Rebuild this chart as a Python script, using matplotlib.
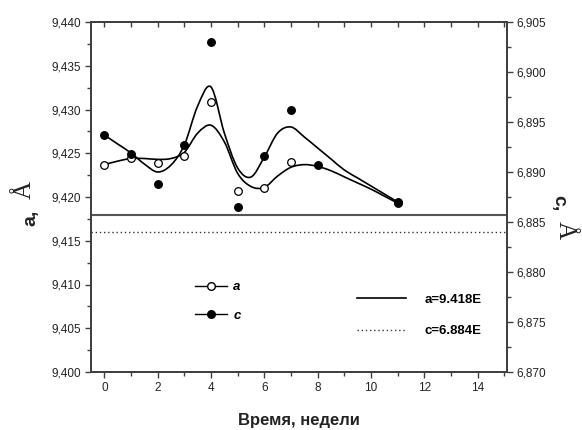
import numpy as np
import matplotlib
matplotlib.use("Agg")
import matplotlib.pyplot as plt
from matplotlib.path import Path
from matplotlib.patches import PathPatch
from matplotlib.lines import Line2D
from matplotlib.ticker import MultipleLocator, FuncFormatter

plt.rcParams['font.family'] = ['Liberation Sans', 'DejaVu Sans']

# lattice parameter a (left axis), weeks
a_weeks = [0, 1, 2, 3, 4, 5, 6, 7, 11]
a_vals = [9.4237, 9.4244, 9.4239, 9.4247, 9.4309, 9.4207, 9.4210, 9.4240, 9.4193]

# lattice parameter c (right axis), weeks
c_weeks = [0, 1, 2, 3, 4, 5, 6, 7, 8, 11]
c_vals = [6.8937, 6.8918, 6.8888, 6.8927, 6.9030, 6.8865, 6.8916, 6.8962, 6.8907, 6.8870]

# smoothed trend curves
a_fit_weeks = [0, 0.5, 1, 1.5, 2, 2.5, 3, 3.5, 4, 4.5, 5, 5.5, 6, 6.5, 7, 7.5, 8,
               8.5, 9, 9.5, 10, 10.5, 11]
a_fit_vals = [9.4237, 9.4241, 9.4244, 9.4244, 9.4243, 9.4244, 9.4251, 9.4273, 9.4282, 9.4263,
              9.4227, 9.4212, 9.4211, 9.4224, 9.4234, 9.4237, 9.4235,
              9.4230, 9.4223, 9.4216, 9.4209, 9.4201, 9.4193]
c_fit_weeks = [0, 0.5, 1, 1.5, 2, 2.5, 3, 3.5, 4, 4.5, 5, 5.5, 6, 6.5, 7, 7.5, 8,
               8.5, 9, 9.5, 10, 10.5, 11]
c_fit_vals = [6.8937, 6.8928, 6.8919, 6.8908, 6.8900, 6.8907, 6.8927, 6.8966, 6.8985, 6.8939,
              6.8904, 6.8895, 6.8915, 6.8939, 6.8945, 6.8935, 6.8924,
              6.8913, 6.8902, 6.8894, 6.8886, 6.8878, 6.8870]

# reference (initial) values
a_ref = 9.418
c_ref = 6.884

INK = '#222222'
AXC = '#404040'


def spline_path(xs, ys):
    # Catmull-Rom through the knots, written as cubic Bezier segments
    pts = np.column_stack([xs, ys]).astype(float)
    n = len(pts)
    verts = [pts[0]]
    codes = [Path.MOVETO]
    for i in range(n - 1):
        p0 = pts[i - 1] if i > 0 else pts[i]
        p1 = pts[i]
        p2 = pts[i + 1]
        p3 = pts[i + 2] if i + 2 < n else pts[i + 1]
        verts += [p1 + (p2 - p0) / 6.0, p2 - (p3 - p1) / 6.0, p2]
        codes += [Path.CURVE4] * 3
    return Path(verts, codes)


def comma(v, pos):
    return f"{v:.3f}".replace('.', ',')


fig = plt.figure(figsize=(5.82, 4.30), dpi=100, facecolor='white')
ax = fig.add_axes([91 / 582, 1 - 372 / 430, 416 / 582, 350 / 430])
ax2 = ax.twinx()

# curves
ax.add_patch(PathPatch(spline_path(a_fit_weeks, a_fit_vals), fc='none', ec='black', lw=1.2, zorder=3))
ax2.add_patch(PathPatch(spline_path(c_fit_weeks, c_fit_vals), fc='none', ec='black', lw=1.2, zorder=3))

# reference levels
ax.axhline(a_ref, color='#555555', lw=1.5, zorder=2)
ax2.axhline(c_ref, color='#333333', lw=1.0, ls=(0, (1, 2)), zorder=2)

# measured points
ax.plot(a_weeks, a_vals, ls='none', marker='o', ms=5.5, mfc='white', mec='black', mew=0.9, zorder=4)
ax2.plot(c_weeks, c_vals, ls='none', marker='o', ms=5.5, mfc='black', mec='black', mew=0.9, zorder=5)

ax.set_xlim(-0.5, 15.1)
ax.set_ylim(9.400, 9.440)
ax2.set_ylim(6.870, 6.905)

ax.xaxis.set_major_locator(MultipleLocator(2))
ax.xaxis.set_minor_locator(MultipleLocator(1))
ax.yaxis.set_major_locator(MultipleLocator(0.005))
ax.yaxis.set_minor_locator(MultipleLocator(0.0025))
ax2.yaxis.set_major_locator(MultipleLocator(0.005))
ax2.yaxis.set_minor_locator(MultipleLocator(0.0025))
ax.yaxis.set_major_formatter(FuncFormatter(comma))
ax2.yaxis.set_major_formatter(FuncFormatter(comma))

for a_ in (ax, ax2):
    for s in a_.spines.values():
        s.set_linewidth(1.3)
        s.set_color(AXC)
    a_.tick_params(which='major', length=4.5, width=1.0, color=AXC, labelsize=8.5,
                   labelcolor=INK, direction='out', pad=2.5)
    a_.tick_params(which='minor', length=3, width=1.0, color=AXC, direction='out')

top = ax.secondary_xaxis('top')
top.xaxis.set_major_locator(MultipleLocator(2))
top.xaxis.set_minor_locator(MultipleLocator(1))
top.tick_params(which='both', direction='in', length=3.5, width=1.0, color=AXC,
                labeltop=False)
top.spines['top'].set_linewidth(1.3)
top.spines['top'].set_color(AXC)

ax.set_xlabel('Время, недели', fontsize=12, fontweight='bold', color=INK, labelpad=14)

# axis titles: letter in sans, angstrom sign in serif
fig.text(31 / 582, 1 - 218 / 430, 'a,', rotation=90, ha='center', va='center',
         fontsize=14, fontweight='bold', color=INK)
fig.text(25 / 582, 1 - 190 / 430, 'Å', rotation=90, ha='center', va='center',
         fontsize=18, family='Liberation Serif', color=INK)
fig.text(559 / 582, 1 - 203 / 430, 'c,', rotation=270, ha='center', va='center',
         fontsize=14, fontweight='bold', color=INK)
fig.text(565 / 582, 1 - 230 / 430, 'Å', rotation=270, ha='center', va='center',
         fontsize=18, family='Liberation Serif', color=INK)

# legends
h_a = Line2D([], [], color='black', lw=1.0, marker='o', ms=5.5, mfc='white', mec='black')
h_c = Line2D([], [], color='black', lw=1.0, marker='o', ms=5.5, mfc='black', mec='black')
leg1 = ax.legend([h_a, h_c], ['a', 'c'], loc='center left', frameon=False,
                 bbox_to_anchor=(195 / 582, 1 - 301.5 / 430), bbox_transform=fig.transFigure,
                 borderpad=0, borderaxespad=0, handlelength=2.4, handletextpad=0.5,
                 labelspacing=1.25, prop={'size': 9.5, 'weight': 'bold', 'style': 'italic'})
ax.add_artist(leg1)

h_s = Line2D([], [], color='black', lw=1.2)
h_d = Line2D([], [], color='#333333', lw=1.0, ls=(0, (1, 2)))
leg2 = ax.legend([h_s, h_d], ['a=9.418E', 'c=6.884E'], loc='center left', frameon=False,
                 bbox_to_anchor=(357 / 582, 1 - 315.5 / 430), bbox_transform=fig.transFigure,
                 borderpad=0, borderaxespad=0, handlelength=3.7, handletextpad=1.4,
                 labelspacing=1.45, prop={'size': 9.5, 'weight': 'bold'})

fig.savefig('out.png', dpi=100, facecolor='white')
